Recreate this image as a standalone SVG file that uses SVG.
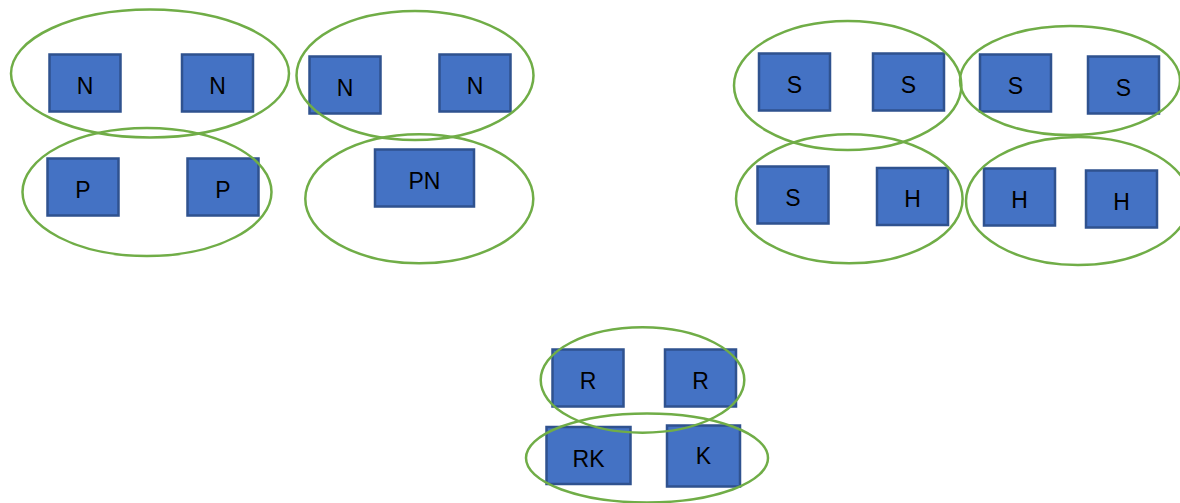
<svg xmlns="http://www.w3.org/2000/svg" width="1180" height="503" viewBox="0 0 1180 503">
<style>
.b{fill:#4472C4;stroke:#2F528F;stroke-width:2.5}
.e{fill:none;stroke:#70AD47;stroke-width:2.5}
.t{font-family:"Liberation Sans",Arial,sans-serif;font-size:23px;fill:#000;text-anchor:middle}
</style>
<rect width="1180" height="503" fill="#fff"/>
<g id="n1"><rect class="b" x="49.5" y="54.5" width="71" height="57"/><text class="t" x="85" y="93.5">N</text></g>
<g id="n2"><rect class="b" x="182" y="54.5" width="71" height="57"/><text class="t" x="217.5" y="93.5">N</text></g>
<g id="n3"><rect class="b" x="309.5" y="56.5" width="71" height="57"/><text class="t" x="345" y="95.5">N</text></g>
<g id="n4"><rect class="b" x="439.5" y="54.5" width="71" height="57"/><text class="t" x="475" y="93.5">N</text></g>
<g id="p1"><rect class="b" x="47.5" y="158.5" width="71" height="57"/><text class="t" x="83" y="197.5">P</text></g>
<g id="p2"><rect class="b" x="187.5" y="158.5" width="71" height="57"/><text class="t" x="223" y="197.5">P</text></g>
<g id="pn"><rect class="b" x="375" y="149.5" width="99" height="57"/><text class="t" x="424.5" y="189">PN</text></g>
<g id="s1"><rect class="b" x="759" y="53.5" width="71" height="57"/><text class="t" x="794.5" y="92.5">S</text></g>
<g id="s2"><rect class="b" x="873" y="53.5" width="71" height="57"/><text class="t" x="908.5" y="92.5">S</text></g>
<g id="s3"><rect class="b" x="980" y="54.5" width="71" height="57"/><text class="t" x="1015.5" y="93.5">S</text></g>
<g id="s4"><rect class="b" x="1088" y="56.5" width="71" height="57"/><text class="t" x="1123.5" y="95.5">S</text></g>
<g id="s5"><rect class="b" x="757.5" y="166.5" width="71" height="57"/><text class="t" x="793" y="205.5">S</text></g>
<g id="h1"><rect class="b" x="877" y="168" width="71" height="57"/><text class="t" x="912.5" y="207">H</text></g>
<g id="h2"><rect class="b" x="984" y="168.5" width="71" height="57"/><text class="t" x="1019.5" y="207.5">H</text></g>
<g id="h3"><rect class="b" x="1086" y="170.5" width="71" height="57"/><text class="t" x="1121.5" y="209.5">H</text></g>
<g id="r1"><rect class="b" x="552.5" y="349.5" width="71" height="57"/><text class="t" x="588" y="388.5">R</text></g>
<g id="r2"><rect class="b" x="665" y="349.5" width="71" height="57"/><text class="t" x="700.5" y="388.5">R</text></g>
<g id="rk"><rect class="b" x="546.5" y="427" width="84" height="57"/><text class="t" x="588.5" y="466.5">RK</text></g>
<g id="k"><rect class="b" x="667" y="425.5" width="73" height="61"/><text class="t" x="703.5" y="464">K</text></g>
<g id="groups">
<ellipse class="e" cx="150" cy="73.5" rx="139" ry="64"/>
<ellipse class="e" cx="147" cy="192" rx="124.5" ry="64"/>
<ellipse class="e" cx="415" cy="75.5" rx="118.5" ry="64.5"/>
<ellipse class="e" cx="419.3" cy="198.8" rx="114" ry="64.5"/>
<ellipse class="e" cx="847.7" cy="85.5" rx="113.7" ry="64.5"/>
<ellipse class="e" cx="1070" cy="80.5" rx="110" ry="54.5"/>
<ellipse class="e" cx="849.3" cy="198.8" rx="113.3" ry="64.5"/>
<ellipse class="e" cx="1078" cy="201" rx="112" ry="64"/>
<ellipse class="e" cx="642.5" cy="380" rx="101.8" ry="52.7"/>
<ellipse class="e" cx="647" cy="458" rx="121" ry="44.5"/>
</g>
</svg>
